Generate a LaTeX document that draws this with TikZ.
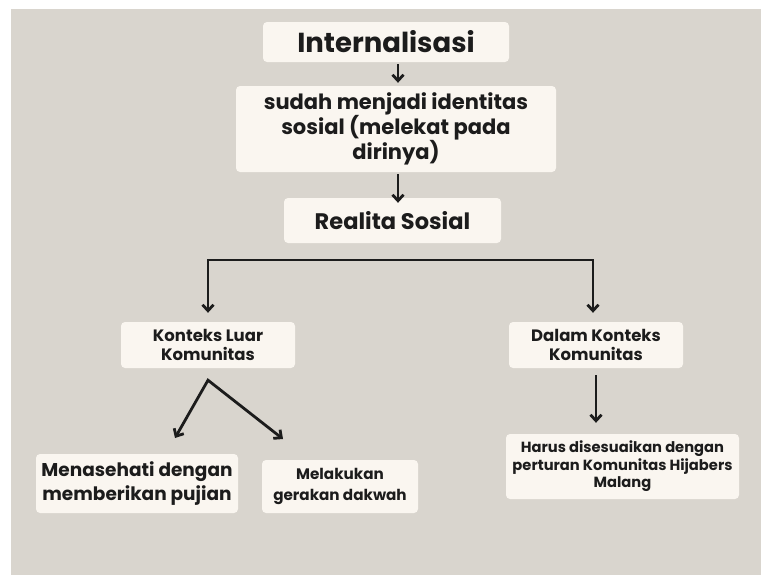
\documentclass[tikz,border=0pt]{standalone}
\usepackage{fontspec}
\setmainfont{Poppins}
\usetikzlibrary{arrows.meta,positioning}
\definecolor{paper}{RGB}{217,213,206}
\definecolor{card}{RGB}{250,246,240}
\definecolor{ink}{RGB}{28,28,28}
\tikzset{>={Straight Barb[length=6pt,width=11pt]}}
\tikzset{card/.style={fill=card, rounded corners=4pt, align=center, text=ink, inner sep=0pt},
  link/.style={draw=ink, line width=2.8pt}}
\newcommand{\fs}[2]{\bfseries\fontsize{#1}{#2}\selectfont}

\begin{document}
\begin{tikzpicture}[x=1pt,y=-1pt]
  \useasboundingbox (0,0) rectangle (761,576);
  \fill[white] (0,0) rectangle (761,576);
  \fill[paper] (11,9) rectangle (761,575);
  % top chain
  \node[card, font=\fs{27.5}{32}, minimum width=246, minimum height=40] at (386,42) (intern) {Internalisasi};
  \node[card, font=\fs{21}{25}, minimum width=320, minimum height=86] at (396,129) (ident) {\raisebox{-3pt}{\parbox{300pt}{\centering sudah menjadi identitas\\ sosial (melekat pada\\ dirinya)}}};
  \node[card, font=\fs{22.5}{26}, minimum width=217, minimum height=45] at (392.5,220.5) (realita) {Realita Sosial};
  % second level
  \node[card, font=\fs{16.5}{18.5}, minimum width=174, minimum height=46] at (208,345) (luar) {Konteks Luar\\ Komunitas};
  \node[card, font=\fs{16.5}{18.5}, minimum width=174, minimum height=46] at (596,345) (dalam) {Dalam Konteks\\ Komunitas};
  % leaves
  \node[card, font=\fs{18.5}{24}, minimum width=202, minimum height=59] at (137,483.5) (nasehat) {Menasehati dengan\\ memberikan pujian};
  \node[card, font=\fs{15.2}{21}, minimum width=156, minimum height=53] at (340,486.5) (dakwah) {Melakukan\\ gerakan dakwah};
  \node[card, font=\fs{14.7}{17.5}, minimum width=233, minimum height=65] at (622.5,466.5) (aturan) {Harus disesuaikan dengan\\ perturan Komunitas Hijabers\\ Malang};
  \coordinate (bl) at (208,260);
  \coordinate (br) at (593,260);
  \coordinate (fork) at ([yshift=-12pt]luar.south);
  \coordinate (tipA) at (175,438);
  \coordinate (tipB) at (283,439);
  \draw[link,->] ([xshift=12pt,yshift=-2pt]intern.south) -- ([xshift=2pt,yshift=3pt]ident.north);
  \draw[link,->] ([xshift=2pt,yshift=-2pt]ident.south) -- ([xshift=5.5pt,yshift=-5pt]realita.north);
  \draw[link,<->,line join=miter] ([yshift=9pt]luar.north) -- (bl) -- (br) -- ([xshift=-3pt,yshift=9pt]dalam.north);
  \draw[link,<->,line join=miter] (tipA) -- (fork) -- (tipB);
  \draw[link,->] ([yshift=-7pt]dalam.south) -- ([xshift=-26.5pt,yshift=11pt]aturan.north);
\end{tikzpicture}
\end{document}
